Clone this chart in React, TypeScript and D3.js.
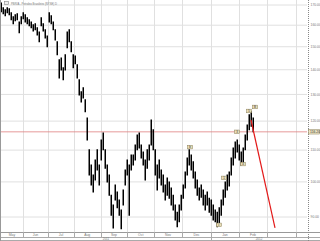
import React from "react";
import * as d3 from "d3";

const W = 320;
const H = 241;

// daily-ish bars (high / low)
const highs = [
  171.0, 168.6, 167.6, 168.6, 168.1, 166.1, 164.1, 165.1, 165.6, 161.6,
  164.1, 166.1, 165.1, 163.6, 162.6, 161.6, 160.2, 160.7, 158.8, 156.8,
  163.6, 160.7, 157.8, 154.9, 166.1, 164.6, 161.6, 157.8, 152.2, 144.2,
  145.0, 140.8, 146.4, 156.8, 157.8, 152.2, 146.4, 145.9, 142.1, 135.8,
  131.0, 132.6, 127.9, 121.1, 110.1, 105.2, 102.1, 106.8, 110.1, 105.2,
  113.4, 115.8, 110.1, 105.2, 102.1, 96.1, 93.3, 99.1, 97.0, 94.7,
  91.9, 97.6, 103.6, 106.8, 105.2, 108.4, 108.4, 111.7, 115.1, 115.8,
  111.7, 109.4, 106.8, 110.1, 111.7, 120.4, 116.9, 110.1, 105.2, 106.8,
  103.6, 102.1, 99.1, 101.2, 100.0, 98.2, 96.1, 93.3, 91.3, 93.3,
  96.1, 99.1, 103.0, 107.4, 110.1, 108.4, 106.2, 103.0, 100.6, 98.2,
  99.1, 97.6, 96.1, 97.0, 95.2, 94.7, 93.3, 91.9, 91.3, 92.5,
  94.7, 97.6, 100.0, 102.1, 103.0, 107.4, 110.7, 112.7, 113.4, 111.7,
  109.4, 110.7, 115.1, 118.6, 122.3, 123.4, 121.1,
];
const lows = [
  166.6, 165.6, 164.6, 166.1, 165.1, 162.6, 160.7, 162.1, 162.6, 156.4,
  160.7, 163.1, 161.6, 160.7, 159.7, 158.8, 157.3, 157.8, 155.4, 152.2,
  159.7, 157.3, 154.0, 150.0, 161.6, 160.7, 157.8, 153.1, 146.4, 136.6,
  139.9, 135.8, 139.9, 149.5, 152.2, 147.7, 140.8, 142.5, 136.6, 129.8,
  127.1, 128.6, 123.4, 113.4, 102.1, 99.1, 97.0, 100.6, 103.6, 99.1,
  106.8, 110.1, 104.2, 100.0, 96.1, 90.5, 87.1, 94.7, 92.5, 90.5,
  86.9, 93.3, 99.1, 102.1, 90.5, 103.6, 105.2, 106.8, 110.1, 110.7,
  107.4, 105.2, 100.6, 104.2, 106.8, 111.7, 110.1, 102.1, 97.6, 101.2,
  99.1, 97.0, 94.7, 96.1, 95.2, 93.3, 91.9, 89.2, 87.4, 88.7,
  91.9, 95.2, 98.2, 102.1, 105.2, 103.6, 101.2, 98.2, 96.1, 94.7,
  95.5, 93.3, 91.9, 93.3, 91.3, 90.5, 89.2, 88.7, 87.4, 87.9,
  90.5, 93.3, 95.5, 97.6, 98.8, 102.1, 105.2, 107.4, 109.4, 106.8,
  105.2, 106.2, 110.1, 113.4, 116.9, 118.2, 116.2,
];

const priceTicks = [90, 100, 110, 120, 130, 140, 150, 160, 170];
const monthLabels = ["May", "Jun", "Jul", "Aug", "Sep", "Oct", "Nov", "Dec", "Jan", "Feb", "", ""];
const monthBounds = [0, 11, 23.5, 36.5, 49.75, 63.25, 76.5, 90.5, 105, 119, 133, 147.5, 153];
const yearLabels = ["2011", "2012"];
const yearBounds = [0, 105, 153];
const refLevel = 116.2;
const projIdx = [125, 137];
const projVal = [120.4, 87.1];
const waveIdx = [94.5, 109, 111.5, 118, 121, 124, 127];
const waveVal = [111.0, 87.9, 101.2, 116.2, 105.5, 123.7, 125.2];
const waveText = ["b", "c", "1", "3", "4", "5", "B"];
const title = "PBR/A - Petroleo Brasileiro (NYSE) D";

const PLOT_L = 1;
const PLOT_R = 307;
const PLOT_T = 0;
const PLOT_B = 232;

export default function App() {
  const x = d3.scaleLinear().domain([0, 153]).range([PLOT_L, PLOT_R]);
  const y = d3.scaleLog().domain([90, 170]).range([217, 5]);
  const font = "'Liberation Sans', Arial, sans-serif";
  const proj = d3
    .line<number>()
    .x((d) => x(projIdx[d]))
    .y((d) => y(projVal[d]));

  return (
    <svg
      width={W}
      height={H}
      style={{ position: "absolute", left: 0, top: 0, background: "#fff" }}
      fontFamily={font}
    >
      <rect x={0} y={0} width={W} height={H} fill="#fff" />
      <defs>
        <clipPath id="plot">
          <rect x={PLOT_L} y={PLOT_T} width={PLOT_R - PLOT_L} height={PLOT_B - PLOT_T} />
        </clipPath>
      </defs>
      {/* grid */}
      {priceTicks.map((t) => (
        <line key={"h" + t} x1={PLOT_L} x2={PLOT_R} y1={y(t)} y2={y(t)} stroke="#e0e0e0" strokeWidth={1} />
      ))}
      {monthBounds.slice(1, -1).map((b, k) => (
        <line key={"v" + k} x1={Math.round(x(b)) + 0.5} x2={Math.round(x(b)) + 0.5} y1={PLOT_T} y2={PLOT_B} stroke="#e0e0e0" strokeWidth={1} />
      ))}
      {/* frame */}
      <line x1={0.5} x2={0.5} y1={0} y2={H} stroke="#999" />
      <line x1={PLOT_L} x2={W} y1={PLOT_B + 0.5} y2={PLOT_B + 0.5} stroke="#999" />
      <line x1={PLOT_L} x2={W} y1={237.5} y2={237.5} stroke="#aaa" />
      <line x1={PLOT_L} x2={W} y1={240.5} y2={240.5} stroke="#aaa" />
      <line x1={308.5} x2={308.5} y1={0} y2={H} stroke="#888" strokeDasharray="1,1" />
      {/* title */}
      <rect x={4.5} y={1.5} width={4} height={3} fill="#eee" stroke="#888" strokeWidth={0.6} />
      <text x={11} y={4.6} fontSize={3.6} fill="#777" textLength={46} lengthAdjust="spacingAndGlyphs">
        {title}
      </text>
      {/* reference level */}
      <line x1={PLOT_L} x2={PLOT_R} y1={y(refLevel)} y2={y(refLevel)} stroke="#e08080" strokeWidth={0.8} />
      {/* bars */}
      <g clipPath="url(#plot)">
        {highs.map((h, i) => (
          <line
            key={"b" + i}
            x1={x(i) + 0.25}
            x2={x(i) + 0.25}
            y1={y(h) - 0.5}
            y2={y(lows[i]) + 0.5}
            stroke="#000"
            strokeWidth={1.5}
          />
        ))}
        <path d={proj([0, 1]) || ""} fill="none" stroke="#e31a1a" strokeWidth={1.2} />
      </g>
      {/* wave labels */}
      {waveIdx.map((wi, k) => (
        <g key={"w" + k}>
          <rect x={x(wi) - 2.5} y={y(waveVal[k]) - 1.8} width={5} height={3.6} fill="#e9dfb8" stroke="#8a7f5a" strokeWidth={0.5} />
          <text x={x(wi)} y={y(waveVal[k]) + 1} fontSize={2.8} textAnchor="middle" fill="#333">
            {waveText[k]}
          </text>
        </g>
      ))}
      {/* right axis labels */}
      {priceTicks.map((t) => (
        <text key={"t" + t} x={310.5} y={y(t) + 1.2} fontSize={3.4} fill="#777">
          {t.toFixed(2)}
        </text>
      ))}
      <rect x={308.5} y={y(refLevel) - 2.2} width={11} height={4.4} fill="#efe6c4" stroke="#8a7f5a" strokeWidth={0.5} />
      <text x={310} y={y(refLevel) + 1.2} fontSize={3.4} fill="#333">
        {refLevel.toFixed(2)}
      </text>
      {/* month row */}
      {monthBounds.slice(1, -1).map((b, k) => (
        <line key={"ms" + k} x1={Math.round(x(b)) + 0.5} x2={Math.round(x(b)) + 0.5} y1={PLOT_B} y2={237.5} stroke="#aaa" />
      ))}
      {monthLabels.map((m, k) => (
        <text
          key={"m" + k}
          x={(x(monthBounds[k]) + x(monthBounds[k + 1])) / 2}
          y={236}
          fontSize={3.4}
          textAnchor="middle"
          fill="#777"
        >
          {m}
        </text>
      ))}
      {/* year row */}
      <line x1={Math.round(x(yearBounds[1])) + 0.5} x2={Math.round(x(yearBounds[1])) + 0.5} y1={237.5} y2={H} stroke="#aaa" />
      {yearLabels.map((yl, k) => (
        <text
          key={"y" + k}
          x={(x(yearBounds[k]) + x(yearBounds[k + 1])) / 2}
          y={240.3}
          fontSize={3}
          textAnchor="middle"
          fill="#777"
        >
          {yl}
        </text>
      ))}
    </svg>
  );
}
